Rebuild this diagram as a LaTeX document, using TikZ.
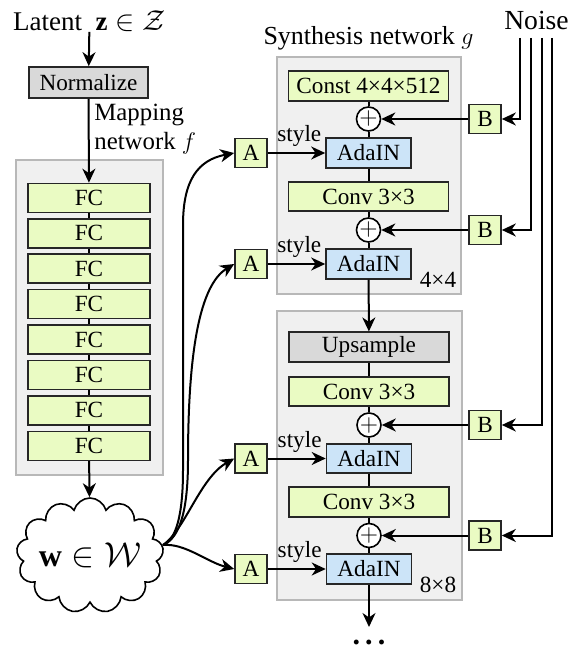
\documentclass[tikz,border=0pt]{standalone}
\usepackage{fontspec}
\setmainfont{Liberation Serif}
\usetikzlibrary{arrows.meta,shapes.symbols}
\definecolor{fcfill}{HTML}{EAFBC3}
\definecolor{adafill}{HTML}{CCE4F8}
\definecolor{grayfill}{HTML}{D9D9D9}
\definecolor{panelfill}{HTML}{F0F0F0}
\definecolor{paneldraw}{HTML}{B8B8B8}
\begin{document}
\begin{tikzpicture}[x=0.5pt,y=-0.5pt,
  font=\fontsize{11.6}{14.5}\selectfont,
  box/.style={draw=black!85, line width=0.8pt, inner sep=0pt, minimum height=14.75pt},
  fcbox/.style={box, fill=fcfill, minimum width=61pt, minimum height=14.5pt},
  normbox/.style={box, fill=grayfill, minimum width=59.5pt, minimum height=15.5pt},
  widebox/.style={box, fill=fcfill, minimum width=80pt},
  upbox/.style={box, fill=grayfill, minimum width=80pt},
  adabox/.style={box, fill=adafill, minimum width=42.5pt},
  abbox/.style={box, fill=fcfill, minimum width=16pt, minimum height=14.5pt},
  plusnode/.style={circle, draw=black, line width=0.8pt, fill=white, inner sep=0pt, minimum size=10pt},
  panel/.style={draw=paneldraw, fill=panelfill, line width=0.8pt, inner sep=0pt},
  conn/.style={line width=1pt},
  arr/.style={conn, -{Stealth[length=7pt,width=6.5pt,inset=2.2pt]}},
  lbl/.style={inner sep=0pt},
  title/.style={inner sep=0pt, font=\fontsize{13}{15}\selectfont}
]
\useasboundingbox (0,0) rectangle (575,651);

% ---------- mapping network ----------
\node[title, font=\fontsize{13.5}{15}\selectfont] (latent) at (89.5,21) {Latent\enspace$\mathbf{z}\in\mathcal{Z}$};
\node[normbox] (norm) at (88.5,82.5) {Normalize};
\node[lbl, anchor=west, align=left, font=\fontsize{12.4}{14.5}\selectfont] (maplbl) at (94,129) {Mapping\\network $f$};
\node[panel, minimum width=73.5pt, minimum height=157.5pt] (mpanel) at (89.5,317.5) {};
\foreach \i in {0,...,7}{
  \node[fcbox] (fc\i) at (89,{198+35.4*\i}) {FC};
}
\draw[arr] (latent) -- (norm);
\draw[arr] (norm) -- (fc0);
\foreach \i [evaluate=\i as \j using int(\i+1)] in {0,...,6}{
  \draw[conn] (fc\i) -- (fc\j);
}
\node[cloud, draw, line width=0.8pt, fill=white, cloud puffs=13, cloud ignores aspect,
      minimum width=73pt, minimum height=57.5pt, inner sep=0pt,
      font=\fontsize{16}{18}\selectfont] (w) at (90,555.5) {$\mathbf{w}\in\mathcal{W}$};
\draw[arr] (fc7) -- (w);
\coordinate (wout) at (163,545);

% ---------- synthesis network ----------
\node[title] (synlbl) at (368.5,38) {Synthesis network $g$};
\node[panel, minimum width=92pt, minimum height=118.5pt] (panel1) at (369,175.5) {};
\node[panel, minimum width=92.5pt, minimum height=144.5pt] (panel2) at (369.5,455.5) {};

\node[widebox] (const) at (368.5,86) {Const 4×4×512};
\node[plusnode] (p1) at (368.5,119) {$+$};
\node[adabox] (ada1) at (368.5,153) {AdaIN};
\node[widebox] (conv1) at (368.5,196.5) {Conv 3×3};
\node[plusnode] (p2) at (368.5,230) {$+$};
\node[adabox] (ada2) at (368.5,264) {AdaIN};
\node[lbl] (res1) at (438,280) {4×4};

\node[upbox] (ups) at (369,347) {Upsample};
\node[widebox] (conv2) at (369,391.5) {Conv 3×3};
\node[plusnode] (p3) at (369,425) {$+$};
\node[adabox] (ada3) at (369,458.5) {AdaIN};
\node[widebox] (conv3) at (369,502) {Conv 3×3};
\node[plusnode] (p4) at (369,535.5) {$+$};
\node[adabox] (ada4) at (369,569) {AdaIN};
\node[lbl] (res2) at (438,585) {8×8};

\draw[conn] (const) -- (p1) -- (ada1) -- (conv1) -- (p2) -- (ada2);
\draw[arr] (ada2) -- (ups);
\draw[conn] (ups) -- (conv2) -- (p3) -- (ada3) -- (conv3) -- (p4) -- (ada4);
\coordinate (outc) at (369,627);
\draw[arr] (ada4) -- (outc);
\node[anchor=base, inner sep=0pt, font=\bfseries\fontsize{15}{15}\selectfont] (dots) at (369,644) {.\hspace{2.6pt}.\hspace{2.6pt}.};

% ---------- noise ----------
\node[title, font=\fontsize{13.8}{15}\selectfont] (noise) at (536.5,21) {Noise};
\node[abbox] (B1) at (485,119) {B};
\node[abbox] (B2) at (485,230) {B};
\node[abbox] (B3) at (485,425) {B};
\node[abbox] (B4) at (485,535.5) {B};
\coordinate (nz1) at (520,38);
\coordinate (nz2) at (531,38);
\coordinate (nz3) at (542,38);
\coordinate (nz4) at (552,38);
\draw[arr] (nz1) |- (B1.east);
\draw[arr] (nz2) |- (B2.east);
\draw[arr] (nz3) |- (B3.east);
\draw[arr] (nz4) |- (B4.east);
\draw[arr] (B1) -- (p1);
\draw[arr] (B2) -- (p2);
\draw[arr] (B3) -- (p3);
\draw[arr] (B4) -- (p4);

% ---------- styles ----------
\node[abbox] (A1) at (251,153) {A};
\node[abbox] (A2) at (251,264) {A};
\node[abbox] (A3) at (251,458.5) {A};
\node[abbox] (A4) at (251,569) {A};
\foreach \k in {1,...,4}{
  \draw[arr] (A\k) -- node[pos=0.55, above=2.5pt, inner sep=0pt] {style} (ada\k);
}
\draw[arr] (wout) .. controls (176,540) and (183,515) .. (183,470) -- (183,225)
  .. controls (183,180) and (198,160) .. (A1.west);
\draw[arr] (wout) .. controls (180,538) and (188,510) .. (188,460)
  .. controls (188,350) and (200,285) .. (A2.west);
\draw[arr] (wout) .. controls (185,530) and (200,478) .. (A3.west);
\draw[arr] (wout) .. controls (185,543) and (207,562) .. (A4.west);
\end{tikzpicture}
\end{document}
